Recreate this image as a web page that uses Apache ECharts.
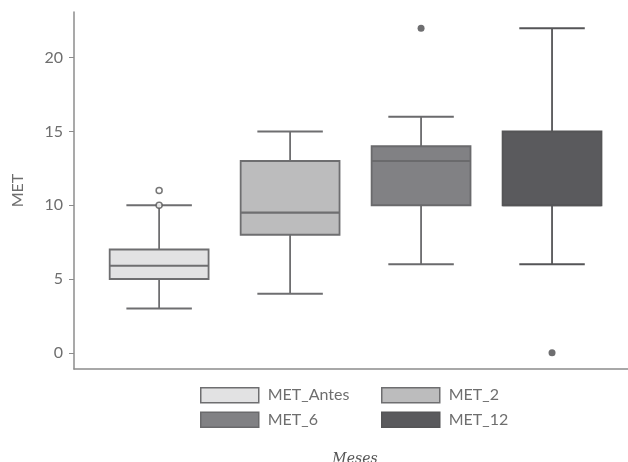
<!DOCTYPE html>
<html>
<head>
<meta charset="utf-8">
<script src="https://cdn.jsdelivr.net/npm/echarts@6/dist/echarts.min.js"></script>
<style>html,body{margin:0;padding:0;background:#fff}#c{width:628px;height:462px}</style>
</head>
<body>
<div id="c"></div>
<script>
const categories = ['MET_Antes', 'MET_2', 'MET_6', 'MET_12'];
const whiskerLow = [3, 4, 6, 6];
const q1 = [5, 8, 10, 10];
const median = [5.9, 9.5, 13, 10];
const q3 = [7, 13, 14, 15];
const whiskerHigh = [10, 15, 16, 22];
const outliersHollow = [[1, 10], [1, 11]];
const outliersFilled = [[3, 22], [4, 0]];
const yTicks = [0, 5, 10, 15, 20];
const fills = ['#e2e2e3', '#bcbcbd', '#818184', '#5a5a5d'];
const strokes = ['#6e6e70', '#6e6e70', '#6a6a6c', '#555557'];

const FONT = 'Lato';
const TXT = '#6e6e6e';

function renderBox(params, api) {
  const x = api.value(0);
  const pLo = api.coord([x, api.value(1)]);
  const pQ1 = api.coord([x, api.value(2)]);
  const pMed = api.coord([x, api.value(3)]);
  const pQ3 = api.coord([x, api.value(4)]);
  const pHi = api.coord([x, api.value(5)]);
  const band = api.size([1, 0])[0];
  const bw = band * 0.755;
  const cw = band * 0.5;
  const cx = pMed[0];
  const stroke = strokes[params.seriesIndex];
  const fill = fills[params.seriesIndex];
  const ls = { stroke: stroke, lineWidth: 1.8 };
  return {
    type: 'group',
    children: [
      { type: 'line', shape: { x1: cx, y1: pHi[1], x2: cx, y2: pQ3[1] }, style: ls },
      { type: 'line', shape: { x1: cx, y1: pQ1[1], x2: cx, y2: pLo[1] }, style: ls },
      { type: 'line', shape: { x1: cx - cw / 2, y1: pHi[1], x2: cx + cw / 2, y2: pHi[1] }, style: ls },
      { type: 'line', shape: { x1: cx - cw / 2, y1: pLo[1], x2: cx + cw / 2, y2: pLo[1] }, style: ls },
      { type: 'rect', shape: { x: cx - bw / 2, y: pQ3[1], width: bw, height: pQ1[1] - pQ3[1] },
        style: { fill: fill, stroke: stroke, lineWidth: 1.8 } },
      { type: 'line', shape: { x1: cx - bw / 2, y1: pMed[1], x2: cx + bw / 2, y2: pMed[1] },
        style: { stroke: stroke, lineWidth: 2.2 } }
    ]
  };
}

const boxSeries = categories.map((name, i) => ({
  name: name,
  type: 'custom',
  renderItem: renderBox,
  itemStyle: { color: fills[i], borderColor: strokes[i] },
  encode: { x: 0, y: [1, 2, 3, 4, 5] },
  data: [[i + 1, whiskerLow[i], q1[i], median[i], q3[i], whiskerHigh[i]]],
  z: 2
}));

const legendText = { color: TXT, fontFamily: FONT, fontSize: 16, lineHeight: 15, padding: [0, 0, 0, 4] };
function legendData(names) {
  return names.map(n => {
    const i = categories.indexOf(n);
    return { name: n, icon: 'rect', itemStyle: { color: fills[i], borderColor: strokes[i], borderWidth: 1.5 } };
  });
}

const option = {
  backgroundColor: '#fff',
  animation: false,
  grid: { left: 74, right: 0, top: 12, bottom: 93, containLabel: false, outerBoundsMode: 'none' },
  xAxis: {
    type: 'value', min: 0.35, max: 4.58,
    axisLine: { show: true, onZero: false, lineStyle: { color: '#8c8c8c', width: 1.5 } },
    axisTick: { show: false }, axisLabel: { show: false }, splitLine: { show: false },
    name: 'Meses', nameLocation: 'middle', nameGap: 83,
    nameTextStyle: { color: '#555', fontFamily: 'DejaVu Serif', fontStyle: 'italic', fontSize: 14, padding: [0, 0, 0, 8] }
  },
  yAxis: {
    type: 'value', min: -1.1, max: 23.1,
    axisLine: { show: true, lineStyle: { color: '#8c8c8c', width: 1.5 } },
    axisTick: { show: true, customValues: yTicks, length: 5, lineStyle: { color: '#8c8c8c' } },
    axisLabel: { customValues: yTicks, color: TXT, fontFamily: FONT, fontSize: 16, margin: 11 },
    splitLine: { show: false },
    name: 'MET', nameLocation: 'middle', nameGap: 48, nameRotate: 90,
    nameTextStyle: { color: TXT, fontFamily: FONT, fontSize: 16 }
  },
  legend: [
    { orient: 'vertical', left: 195, top: 382, itemWidth: 58, itemHeight: 15, itemGap: 8,
      textStyle: legendText, data: legendData(['MET_Antes', 'MET_6']), selectedMode: false },
    { orient: 'vertical', left: 376, top: 382, itemWidth: 58, itemHeight: 15, itemGap: 8,
      textStyle: legendText, data: legendData(['MET_2', 'MET_12']), selectedMode: false }
  ],
  series: boxSeries.concat([
    { name: 'outHollow', type: 'scatter', data: outliersHollow, symbol: 'circle', symbolSize: 6,
      itemStyle: { color: '#fff', borderColor: '#555', borderWidth: 1.5 }, z: 3 },
    { name: 'outFilled', type: 'scatter', data: outliersFilled, symbol: 'circle', symbolSize: 7,
      itemStyle: { color: '#4a4a4c' }, z: 3 }
  ])
};

const chart = echarts.init(document.getElementById('c'), null, { renderer: 'canvas' });
chart.setOption(option);
</script>
</body>
</html>
